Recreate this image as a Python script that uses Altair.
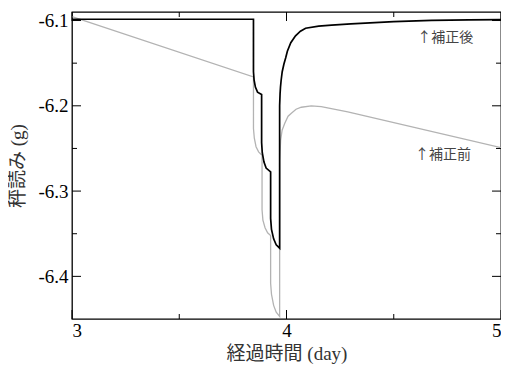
import altair as alt
import pandas as pd

# 補正後 (black)
after_x = [3.0, 3.846, 3.846, 3.849, 3.855, 3.865, 3.884, 3.884, 3.887, 3.895, 3.905, 3.926,
           3.926, 3.930, 3.940, 3.952, 3.968, 3.968, 3.970, 3.972, 3.975, 3.980, 3.988, 3.996,
           4.004, 4.020, 4.042, 4.065, 4.089, 4.15, 4.21, 4.30, 4.367, 4.5, 4.676, 4.85, 5.0]
after_y = [-6.0985, -6.0985, -6.160, -6.170, -6.178, -6.184, -6.1868, -6.243, -6.255, -6.266, -6.273, -6.2775,
           -6.332, -6.345, -6.356, -6.363, -6.367, -6.200, -6.186, -6.178, -6.170, -6.160, -6.151, -6.144,
           -6.136, -6.126, -6.118, -6.1125, -6.109, -6.1065, -6.1055, -6.104, -6.103, -6.1013, -6.0998, -6.0992, -6.0989]

# 補正前 (gray)
before_x = [3.0, 3.846, 3.846, 3.850, 3.858, 3.870, 3.886, 3.886, 3.890, 3.900, 3.912, 3.926,
            3.926, 3.930, 3.940, 3.952, 3.968, 3.968, 3.9727, 3.9796, 3.992, 4.0074, 4.0227,
            4.0445, 4.0691, 4.1155, 4.1619, 4.2857, 5.0]
before_y = [-6.0955, -6.1662, -6.2266, -6.238, -6.248, -6.254, -6.258, -6.322, -6.334, -6.343, -6.349, -6.352,
            -6.408, -6.421, -6.434, -6.442, -6.447, -6.264, -6.2403, -6.2286, -6.2204, -6.2122, -6.2087,
            -6.204, -6.2017, -6.2002, -6.2009, -6.2072, -6.2491]

x_major = [3, 4, 5]
x_minor = [3.5, 4.5]
y_major = [-6.1, -6.2, -6.3, -6.4]
y_minor = [-6.15, -6.25, -6.35]

label_text = ["↑補正後", "↑補正前"]
label_x = [4.74, 4.73]
label_y = [-6.121, -6.258]

W, H = 429, 307
XD = [3, 5]
YD = [-6.45, -6.09]

SERIF = "Liberation Serif, Times New Roman, serif"
MIXED = "Liberation Serif, Noto Sans CJK JP"

df_after = pd.DataFrame({"x": after_x, "y": after_y, "i": range(len(after_x))})
df_before = pd.DataFrame({"x": before_x, "y": before_y, "i": range(len(before_x))})

xs = alt.Scale(domain=XD, nice=False, zero=False)
ys = alt.Scale(domain=YD, nice=False, zero=False)

x_axis = alt.Axis(values=x_major, labelExpr="'' + datum.value", ticks=False, domain=False, grid=False,
                  title="経過時間 (day)", labelPadding=2, titlePadding=4,
                  labelFont=SERIF, labelFontSize=19, labelColor="black",
                  titleFont=MIXED, titleFontSize=19, titleColor="#333333", titleFontWeight="normal")
y_axis = alt.Axis(values=y_major, labelExpr="'' + datum.value", ticks=False, domain=False, grid=False,
                  title="秤読み (g)", labelPadding=4, titlePadding=10,
                  labelFont=SERIF, labelFontSize=19, labelColor="black",
                  titleFont=MIXED, titleFontSize=19, titleColor="#333333", titleFontWeight="normal")

before = alt.Chart(df_before).mark_line(color="#b3b3b3", strokeWidth=1.3).encode(
    x=alt.X("x:Q", scale=xs, axis=x_axis),
    y=alt.Y("y:Q", scale=ys, axis=y_axis),
    order="i:Q",
)
after = alt.Chart(df_after).mark_line(color="black", strokeWidth=1.7).encode(
    x=alt.X("x:Q", scale=xs),
    y=alt.Y("y:Q", scale=ys),
    order="i:Q",
)

def xticks(vals, length):
    d = pd.DataFrame({"x": vals})
    b = alt.Chart(d).mark_rule(color="black", strokeWidth=1).encode(
        x=alt.X("x:Q", scale=xs), y=alt.value(H), y2=alt.value(H - length))
    t = alt.Chart(d).mark_rule(color="black", strokeWidth=1).encode(
        x=alt.X("x:Q", scale=xs), y=alt.value(0), y2=alt.value(length))
    return [b, t]

def yticks(vals, length):
    d = pd.DataFrame({"y": vals})
    l = alt.Chart(d).mark_rule(color="black", strokeWidth=1).encode(
        y=alt.Y("y:Q", scale=ys), x=alt.value(0), x2=alt.value(length))
    r = alt.Chart(d).mark_rule(color="black", strokeWidth=1).encode(
        y=alt.Y("y:Q", scale=ys), x=alt.value(W), x2=alt.value(W - length))
    return [l, r]

labels = alt.Chart(pd.DataFrame({"t": label_text, "x": label_x, "y": label_y})).mark_text(
    font="Noto Sans CJK JP", fontSize=14, color="#444444", align="center", baseline="middle"
).encode(x=alt.X("x:Q", scale=xs), y=alt.Y("y:Q", scale=ys), text="t:N")

layers = [before, after] + xticks(x_major, 9) + xticks(x_minor, 5) + yticks(y_major, 9) + yticks(y_minor, 5) + [labels]

chart = alt.layer(*layers).properties(
    width=W, height=H,
    autosize="none",
    padding={"left": 64, "top": 4, "right": 0, "bottom": 47},
).configure_view(stroke="black", strokeWidth=1.3)

chart.save("out.html", embed_options={"renderer": "svg", "actions": False})
